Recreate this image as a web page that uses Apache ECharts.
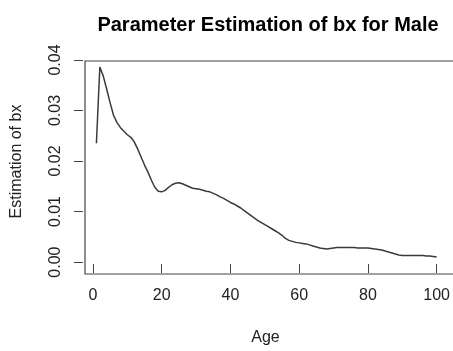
<!DOCTYPE html>
<html>
<head>
<meta charset="utf-8">
<script src="https://cdn.jsdelivr.net/npm/echarts@6/dist/echarts.min.js"></script>
<style>html,body{margin:0;padding:0;background:#fff;}#c{width:453px;height:351px;}</style>
</head>
<body>
<div id="c"></div>
<script>
var ages = [1,2,3,4,5,6,7,8,9,10,11,12,13,14,15,16,17,18,19,20,
21,22,23,24,25,26,27,28,29,30,31,32,33,34,35,36,37,38,39,40,
41,42,43,44,45,46,47,48,49,50,51,52,53,54,55,56,57,58,59,60,
61,62,63,64,65,66,67,68,69,70,71,72,73,74,75,76,77,78,79,80,
81,82,83,84,85,86,87,88,89,90,91,92,93,94,95,96,97,98,99,100];
var bx = [0.0235,0.0386,0.0368,0.0342,0.0315,0.0290,0.0276,0.0266,0.0259,0.0252,
0.0247,0.0238,0.0224,0.0208,0.0192,0.0178,0.0162,0.0148,0.0140,0.0139,
0.0142,0.0148,0.0153,0.0156,0.0157,0.0155,0.0152,0.0149,0.0146,0.0145,
0.0144,0.0142,0.0140,0.0139,0.0136,0.0133,0.0129,0.0126,0.0122,0.0118,
0.0115,0.0111,0.0107,0.0102,0.0097,0.0092,0.0087,0.0082,0.0078,0.0074,
0.0070,0.0066,0.0062,0.0058,0.0053,0.0047,0.0043,0.0041,0.0039,0.0038,
0.0037,0.0036,0.0034,0.0032,0.0030,0.0028,0.0027,0.0026,0.0027,0.0028,
0.0029,0.0029,0.0029,0.0029,0.0029,0.0029,0.0028,0.0028,0.0028,0.0028,
0.0027,0.0026,0.0025,0.0024,0.0022,0.0020,0.0018,0.0016,0.0014,0.0013,
0.0013,0.0013,0.0013,0.0013,0.0013,0.0013,0.0012,0.0012,0.0011,0.0010];
var xTicks = [0,20,40,60,80,100];
var yTicks = [0,0.01,0.02,0.03,0.04];
var yTickLabels = ['0.00','0.01','0.02','0.03','0.04'];

var pts = ages.map(function(a,i){return [a,bx[i]];});
var chart = echarts.init(document.getElementById('c'), null, {renderer:'canvas'});
var font = 'Liberation Sans, Arial, sans-serif';
var G = {left:83, top:59, width:369, height:213};
chart.setOption({
  animation:false,
  title:{text:'Parameter Estimation of bx for Male',left:263,top:10,textAlign:'center',
    textStyle:{fontFamily:font,fontSize:20,fontWeight:'bold',color:'#000'}},
  grid:{left:G.left,top:G.top,width:G.width,height:G.height},
  graphic:[{type:'rect',left:G.left-0.5,top:G.top-0.5,z:100,silent:true,
    shape:{x:0,y:0,width:G.width,height:G.height},
    style:{fill:'none',stroke:'#444',lineWidth:1.2}}],
  xAxis:{type:'value',min:-2.9,max:103.3,
    name:'Age',nameLocation:'middle',nameGap:66,
    nameTextStyle:{fontFamily:font,fontSize:16,color:'#222'},
    axisLine:{show:false,onZero:false},splitLine:{show:false},
    axisTick:{show:true,length:9,customValues:xTicks,lineStyle:{color:'#444',width:1}},
    axisLabel:{customValues:xTicks,margin:24,fontFamily:font,fontSize:16,color:'#222'}},
  yAxis:{type:'value',min:-0.00038,max:0.04019,
    name:'Estimation of bx',nameLocation:'middle',nameGap:58,nameRotate:90,
    nameTextStyle:{fontFamily:font,fontSize:16,color:'#222'},
    axisLine:{show:false,onZero:false},splitLine:{show:false},
    axisTick:{show:true,length:9,customValues:yTicks,lineStyle:{color:'#444',width:1}},
    axisLabel:{customValues:yTicks,rotate:90,margin:19,fontFamily:font,fontSize:16,color:'#222',
      formatter:function(v){var i=yTicks.indexOf(v);return i>=0?yTickLabels[i]:v.toFixed(2);}}},
  series:[{type:'line',data:pts,showSymbol:false,
    lineStyle:{color:'#3a3a3a',width:1.5},silent:true}]
});
</script>
</body>
</html>
